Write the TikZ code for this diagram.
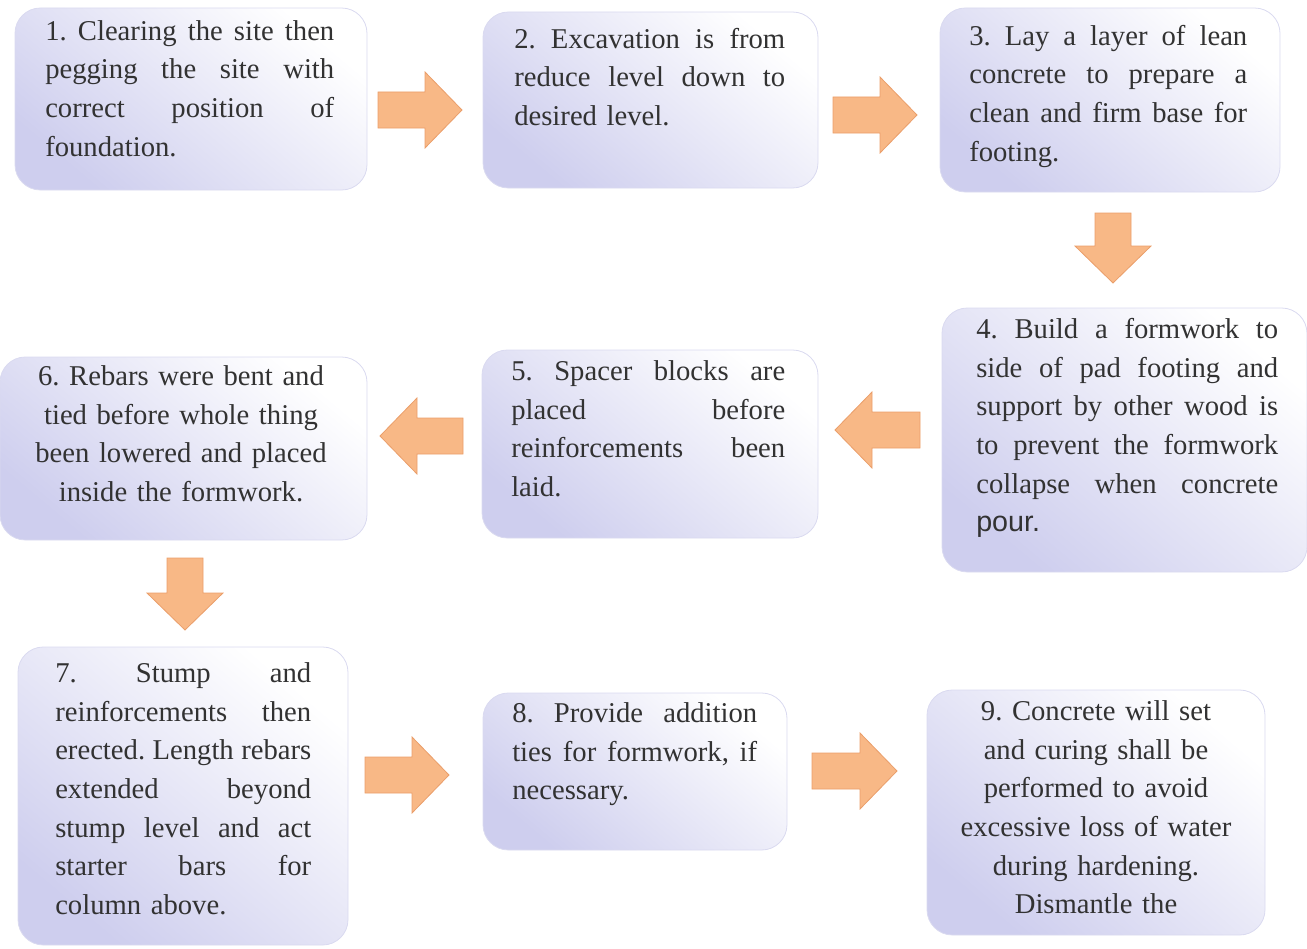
\documentclass[tikz,border=0pt]{standalone}
\usepackage{fontspec}
\setmainfont{Liberation Serif}
\newfontfamily\arialfont{Liberation Sans}
\usetikzlibrary{calc,fit}
\frenchspacing

\definecolor{boxlav}{RGB}{206,206,238}
\definecolor{boxedge}{RGB}{218,218,240}
\definecolor{arrowfill}{RGB}{248,184,134}
\definecolor{arrowedge}{RGB}{234,158,106}
\definecolor{textgray}{RGB}{50,50,50}

% one justified line of a step text, \tw is the text width of the node
\newcommand{\jl}[1]{\leavevmode\hbox to\tw{\spaceskip=0.25em plus 1fil\xspaceskip=0.25em plus 1fil\relax #1}}
% block arrow from tail #1 to tip #2
\newcommand{\flowarrow}[2]{%
  \path ($(#2)!27.75pt!(#1)$) coordinate (hb);
  \draw[flowarrow] ($(#1)!13.5pt!90:(#2)$) -- ($(hb)!13.5pt!90:(#2)$) -- ($(hb)!28.5pt!90:(#2)$) -- (#2)
    -- ($(hb)!28.5pt!-90:(#2)$) -- ($(hb)!13.5pt!-90:(#2)$) -- ($(#1)!13.5pt!-90:(#2)$) -- cycle;}

\begin{document}
\begin{tikzpicture}[x=0.75pt,y=0.75pt,yscale=-1,xscale=1,
  stepbox/.style={rounded corners=19pt, inner sep=0pt, draw=boxedge, line width=0.6pt,
    top color=white, bottom color=boxlav, shading angle=-40},
  steptext/.style={inner sep=0pt, anchor=north west, align=left, text=textgray,
    text width=#1, execute at begin node={\def\tw{#1}},
    font=\fontsize{21.5}{29}\selectfont},
  flowarrow/.style={fill=arrowfill, draw=arrowedge, line width=0.6pt, line join=miter}]
\useasboundingbox (0,0) rectangle (1307,949);

%Rounded Rect: the nine steps
\node[stepbox, fit={(15,8) (367,190)}] (s1) {};
\node[stepbox, fit={(483,12) (818,188)}] (s2) {};
\node[stepbox, fit={(940,8) (1280,192)}] (s3) {};
\node[stepbox, fit={(942,308) (1307,572)}] (s4) {};
\node[stepbox, fit={(482,350) (818,538)}] (s5) {};
\node[stepbox, fit={(0,357) (367,540)}] (s6) {};
\node[stepbox, fit={(18,647) (348,945)}] (s7) {};
\node[stepbox, fit={(483,693) (787,850)}] (s8) {};
\node[stepbox, fit={(927,690) (1265,935)}] (s9) {};

% Text Node
\node[steptext=216.75pt] (t1) at (45,13) {\strut\jl{1. Clearing the site then}\\
  \jl{pegging the site with}\\ \jl{correct position of}\\ foundation.};
% Text Node
\node[steptext=203.25pt] (t2) at (514,21) {\strut\jl{2. Excavation is from}\\
  \jl{reduce level down to}\\ desired level.};
% Text Node
\node[steptext=208.5pt] (t3) at (969,18) {\strut\jl{3. Lay a layer of lean}\\
  \jl{concrete to prepare a}\\ \jl{clean and firm base for}\\ footing.};
% Text Node
\node[steptext=226.5pt] (t4) at (976,311) {\strut\jl{4. Build a formwork to}\\
  \jl{side of pad footing and}\\ \jl{support by other wood is}\\ \jl{to prevent the formwork}\\
  \jl{collapse when concrete}\\ {\arialfont pour.}};
% Text Node
\node[steptext=205.5pt] (t5) at (511,353) {\strut\jl{5. Spacer blocks are}\\
  \jl{placed before}\\ \jl{reinforcements been}\\ laid.};
% Text Node
\node[steptext=225pt, anchor=north, align=center] (t6) at (181,358) {\strut 6. Rebars were bent and\\
  tied before whole thing\\ been lowered and placed\\ inside the formwork.};
% Text Node
\node[steptext=192pt] (t7) at (55,655) {\strut\jl{7. Stump and}\\
  \jl{reinforcements then}\\ \jl{erected. Length rebars}\\ \jl{extended beyond}\\
  \jl{stump level and act}\\ \jl{starter bars for}\\ column above.};
% Text Node
\node[steptext=183.75pt] (t8) at (512,695) {\strut\jl{8. Provide addition}\\
  \jl{ties for formwork, if}\\ necessary.};
% Text Node
\node[steptext=225pt, anchor=north, align=center] (t9) at (1096,693) {\strut 9. Concrete will set\\
  and curing shall be\\ performed to avoid\\ excessive loss of water\\ during hardening.\\ Dismantle the};

%Block arrows between the steps
\coordinate (a12s) at (378,110); \coordinate (a12e) at (462,110);
\coordinate (a23s) at (833,115); \coordinate (a23e) at (917,115);
\coordinate (a34s) at (1113,213); \coordinate (a34e) at (1113,283);
\coordinate (a45s) at (920,430); \coordinate (a45e) at (835,430);
\coordinate (a56s) at (463,436); \coordinate (a56e) at (380,436);
\coordinate (a67s) at (185,558); \coordinate (a67e) at (185,630);
\coordinate (a78s) at (365,775); \coordinate (a78e) at (449,775);
\coordinate (a89s) at (812,771); \coordinate (a89e) at (897,771);
\flowarrow{a12s}{a12e}
\flowarrow{a23s}{a23e}
\flowarrow{a34s}{a34e}
\flowarrow{a45s}{a45e}
\flowarrow{a56s}{a56e}
\flowarrow{a67s}{a67e}
\flowarrow{a78s}{a78e}
\flowarrow{a89s}{a89e}

\end{tikzpicture}
\end{document}
